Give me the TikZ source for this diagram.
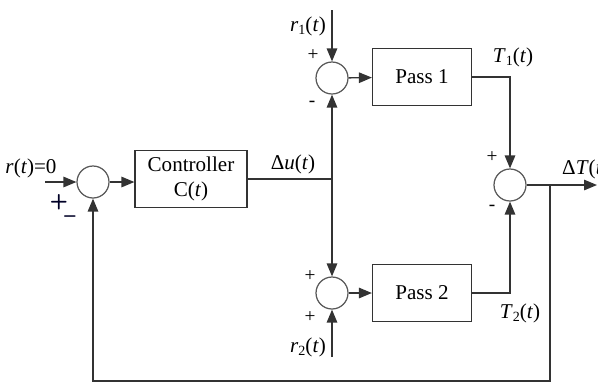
\documentclass[tikz,border=0pt]{standalone}
\usepackage{fontspec}
\setmainfont{Liberation Serif}
\usetikzlibrary{arrows.meta, positioning}
\newcommand{\low}[1]{\raisebox{-0.35ex}{\footnotesize #1}}

\begin{document}
\begin{tikzpicture}[
    x=0.02cm, y=-0.02cm,
    font=\fontsize{12}{14}\selectfont,
    sum/.style={
        circle,
        draw=black!65,
        line width=0.7pt,
        minimum size=0.64cm,
        inner sep=0pt
    },
    box/.style={
        rectangle,
        draw=black!80,
        line width=0.7pt,
        minimum width=1.98cm,
        minimum height=1.15cm,
        align=center
    },
    arrow/.style={-{Triangle[length=2.6mm,width=2.1mm]}, line width=0.8pt, draw=black!80},
    wire/.style={line width=0.8pt, draw=black!80},
    sign/.style={inner sep=0pt, font=\fontsize{11}{12}\selectfont},
    bigsign/.style={inner sep=0pt, text=black!85!blue, font=\sffamily\bfseries\fontsize{12}{12}\selectfont}
]

\useasboundingbox (0,0) rectangle (598,387);

% summing points
\node (S0) [sum] at (93,182) {};
\node (S1) [sum] at (332,78) {};
\node (S2) [sum] at (332,293) {};
\node (S3) [sum] at (510,185) {};

% blocks
\node (C) [box, minimum width=2.24cm, minimum height=1.14cm] at (191,179) {Controller\\C(\textit{t})};
\node (P1) [box] at (422,77) {Pass 1};
\node (P2) [box] at (422,293) {Pass 2};

% free ends
\coordinate (in) at (45,182);
\coordinate (split) at (332,179);
\coordinate (r1) at (332,10);
\coordinate (r2) at (332,357);
\coordinate (branch) at (550,185);
\coordinate (out) at (597,185);
\coordinate (fb) at (550,381);

\draw [arrow] (in) -- (S0);
\draw [arrow] (S0) -- (S0 -| C.west);
\draw [wire] (C) -- (split);
\draw [arrow] (split) -- (S1);
\draw [arrow] (split) -- (S2);
\draw [arrow] (r1) -- (S1);
\draw [arrow] (r2) -- (S2);
\draw [arrow] (S1) -- (P1);
\draw [arrow] (S2) -- (P2);
\draw [arrow] (P1.east) -| (S3);
\draw [arrow] (P2.east) -| (S3);
\draw [arrow] (S3) -- (out);
\draw [arrow] (branch) -- (fb) -| (S0);

% labels
\node (lr) at (31,168) {\textit{r}(\textit{t})=0};
\node (p0) [bigsign] at (59,202) {+};
\node (m0) [bigsign] at (70,219) {–};
\node (ldu) at (293,164) {Δ\textit{u}(\textit{t})};
\node (lr1) at (308,26) {\textit{r}\low{1}(\textit{t})};
\node (p1) [sign] at (313,55) {+};
\node (m1) [sign] at (312,104) {-};
\node (lT1) at (513,57) {\textit{T}\low{1}(\textit{t})};
\node (p3) [sign] at (492,157) {+};
\node (m3) [sign] at (492,208) {-};
\node (ldT) [anchor=west] at (556,169) {Δ\textit{T}(\textit{t})};
\node (p2a) [sign] at (310,276) {+};
\node (p2b) [sign] at (310,317) {+};
\node (lr2) at (308,347) {\textit{r}\low{2}(\textit{t})};
\node (lT2) at (520,313) {\textit{T}\low{2}(\textit{t})};

\end{tikzpicture}
\end{document}
